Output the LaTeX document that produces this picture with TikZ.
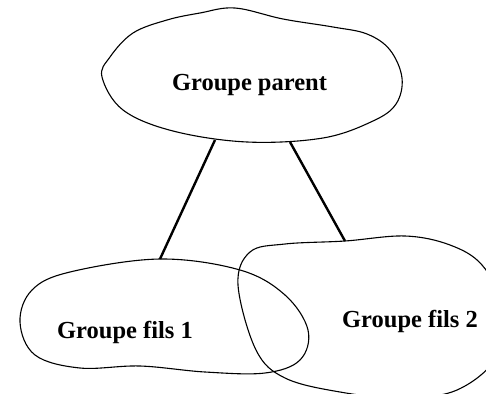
\documentclass[tikz,border=0pt]{standalone}
\usepackage{fontspec}
\setmainfont{Liberation Serif}
\begin{document}
\begin{tikzpicture}[x=1pt,y=-1pt,
  blob/.style={draw=black,line width=1.1pt},
  link/.style={draw=black,line width=2.4pt},
  lbl/.style={anchor=base,inner sep=0pt,font=\fontsize{24.5}{26}\selectfont\bfseries}]
\useasboundingbox (0,0) rectangle (486,393);
\begin{scope}
\clip (0,0) rectangle (486,393);
% parent
\draw[blob] plot[smooth cycle,tension=0.6] coordinates {
 (102,77) (110,57) (133,33) (167,20) (200,13) (235,8) (283,19) (333,27) (367,34)
 (390,50) (402,78) (396,104) (373,121) (323,138) (247,142) (173,131) (123,110)};
% fils 1
\draw[blob] plot[smooth cycle,tension=0.6] coordinates {
 (20,322) (32,290) (70,272) (160,259) (240,270) (285,295) (308,330) (300,360)
 (265,373) (205,372) (140,366) (80,368) (35,355)};
% fils 2
\draw[blob] plot[smooth cycle,tension=0.6] coordinates {
 (238,285) (250,252) (285,244) (345,241) (405,236) (450,245) (482,265) (502,305)
 (498,355) (457,390) (400,398) (340,392) (285,378) (256,350)};
\end{scope}
\node[lbl] (parent) at (249.5,90.5) {Groupe parent};
\node[lbl] (fils1) at (125,338) {Groupe fils 1};
\node[lbl] (fils2) at (410,327) {Groupe fils 2};
\coordinate (pa) at (215,140);
\coordinate (pb) at (290,142);
\coordinate (ca) at (160,259);
\coordinate (cb) at (345,241);
\draw[link] (pa) -- (ca);
\draw[link] (pb) -- (cb);
\end{tikzpicture}
\end{document}
